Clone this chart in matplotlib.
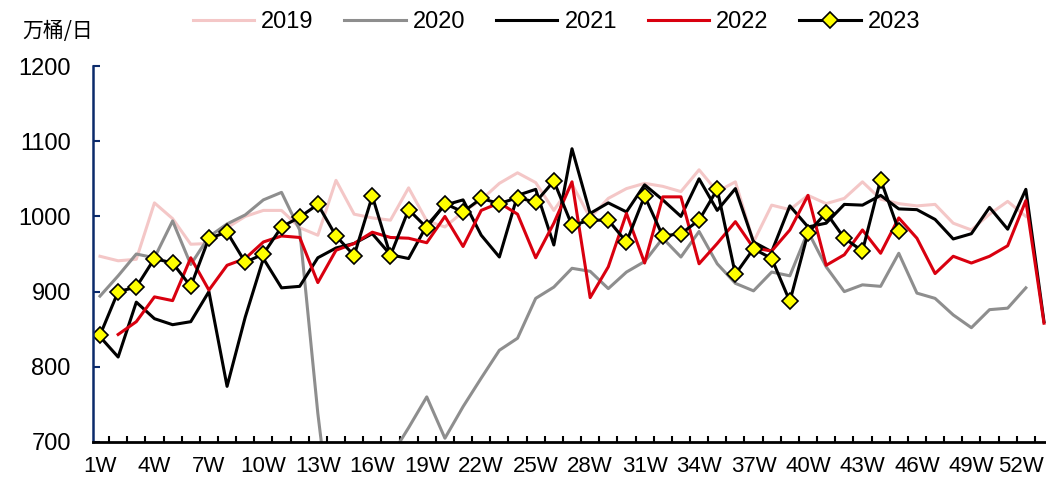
import numpy as np
import matplotlib
matplotlib.use("Agg")
import matplotlib.pyplot as plt
from matplotlib.ticker import FixedLocator
from matplotlib.transforms import ScaledTranslation

plt.rcParams["font.family"] = ["Liberation Sans", "Noto Sans CJK SC", "DejaVu Sans"]

nan = np.nan
weeks = np.arange(1, 54)
week_labels = [f"{w}W" for w in weeks]
label_weeks = list(range(1, 53, 3))

y2019 = [947, 941, 943, 1018, 997, 963, 964, 985, 1000, 1008,
         1008, 985, 975, 1048, 1003, 998, 995, 1038, 994, 986,
         1006, 1022, 1044, 1058, 1045, 1008, 1043, 998, 1024, 1037,
         1044, 1040, 1033, 1062, 1033, 1046, 966, 1015, 1009, 1028,
         1017, 1024, 1046, 1023, 1017, 1014, 1016, 991, 982, 1003,
         1020, 1000, nan]
y2020 = [894, 921, 950, 945, 994, 936, 973, 990, 1002, 1022,
         1032, 982, 738, 540, 560, 600, 680, 719, 760, 705,
         747, 785, 822, 838, 891, 906, 931, 927, 904, 926,
         940, 971, 946, 980, 937, 911, 901, 926, 921, 980,
         933, 900, 909, 907, 951, 898, 891, 869, 852, 876,
         878, 905, nan]
y2021 = [840, 813, 886, 864, 856, 860, 900, 774, 866, 944,
         905, 907, 945, 958, 964, 977, 949, 944, 988, 1015,
         1022, 975, 946, 1028, 1036, 962, 1090, 1004, 1018, 1006,
         1042, 1022, 1000, 1050, 1008, 1037, 966, 953, 1014, 986,
         991, 1016, 1015, 1028, 1010, 1009, 996, 970, 977, 1012,
         983, 1036, 860]
y2022 = [nan, 843, 860, 893, 888, 945, 902, 935, 944, 966,
         974, 972, 912, 955, 964, 979, 972, 971, 965, 1000,
         960, 1008, 1018, 1003, 945, 991, 1046, 892, 933, 1004,
         938, 1026, 1026, 937, 964, 993, 958, 954, 982, 1028,
         935, 949, 982, 951, 998, 971, 924, 947, 938, 947,
         961, 1021, 858]
y2023 = [842, 900, 906, 944, 938, 907, 971, 979, 939, 950,
         986, 999, 1016, 974, 948, 1027, 948, 1009, 985, 1017,
         1006, 1024, 1017, 1025, 1019, 1047, 988, 995, 995, 966,
         1027, 974, 977, 995, 1036, 923, 957, 944, 887, 978,
         1005, 971, 954, 1049, 981] + [nan] * 8

fig = plt.figure(figsize=(10.46, 4.82), dpi=100)
ax = fig.add_axes([0.0889, 0.083, 0.9111, 0.780])

lw = 2.2
ax.plot(weeks, y2019, color="#F4C7C7", lw=lw, label="2019")
ax.plot(weeks, y2020, color="#8E8E8E", lw=lw, label="2020")
ax.plot(weeks, y2021, color="black", lw=lw, label="2021")
ax.plot(weeks, y2022, color="#D9000F", lw=lw, label="2022")
ax.plot(weeks, y2023, color="black", lw=lw, marker="D", markersize=8,
        markerfacecolor="#FFFF00", markeredgecolor="black", markeredgewidth=1.2,
        label="2023")

ax.set_ylim(700, 1200)
ax.set_xlim(1 - 7 / 18.154, 53 + 2 / 18.154)
ax.set_yticks(range(700, 1201, 100))
ax.set_xticks(label_weeks)
ax.set_xticklabels([week_labels[w - 1] for w in label_weeks])
ax.xaxis.set_minor_locator(FixedLocator(np.arange(1.5, 53, 1.0)))

for side in ("top", "right"):
    ax.spines[side].set_visible(False)
ax.spines["left"].set_color("#0B2A6B")
ax.spines["left"].set_linewidth(1.8)
ax.spines["bottom"].set_color("black")
ax.spines["bottom"].set_linewidth(2.0)

ax.tick_params(axis="y", direction="in", length=5, width=1.5, color="#0B2A6B",
               labelsize=17, pad=16)
ax.tick_params(axis="x", which="major", length=0, labelsize=16, pad=10)
ax.tick_params(axis="x", which="minor", direction="in", length=4.5, width=1.5)

# last label sits at the right edge, nudge it in a little
last = ax.get_xticklabels()[-1]
last.set_transform(last.get_transform() + ScaledTranslation(-5 / 100, 0, fig.dpi_scale_trans))

fig.text(0.021, 0.935, "万桶/日", fontsize=15, family=["Noto Sans CJK SC"],
         ha="left", va="center")

fig.legend(loc="center", bbox_to_anchor=(0.532, 0.954), ncol=5, frameon=False,
           fontsize=17, handlelength=2.6, handletextpad=0.3, columnspacing=1.3)

fig.savefig("out.png", dpi=100)
